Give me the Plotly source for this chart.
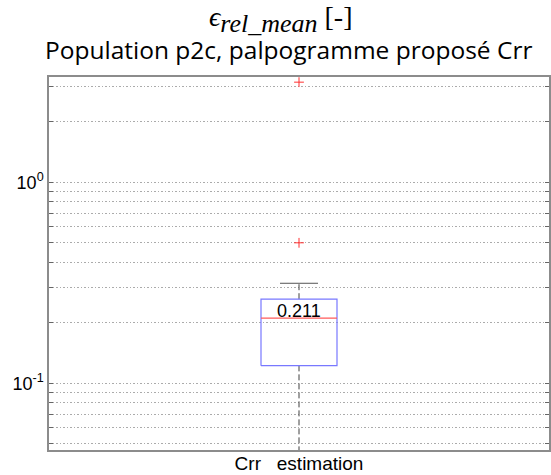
import math
import plotly.graph_objects as go

# Box statistics for the single group
category = ["Crr\u00a0\u00a0\u00a0estimation"]
q1 = [0.1224]
median = [0.211]
q3 = [0.262]
upper_whisker = [0.3145]
lower_whisker = [0.03]
outliers = [0.5, 3.15]

# Log-axis grid values and labels
grid_vals = [0.05, 0.06, 0.07, 0.08, 0.09,
             0.1, 0.2, 0.3, 0.4, 0.5, 0.6, 0.7, 0.8, 0.9,
             1, 2, 3]
grid_text = ["10<sup>-1</sup>" if v == 0.1 else "10<sup>0</sup>" if v == 1 else "" for v in grid_vals]

xc = 1.0
hw = 0.076   # half width of the box
cw = 0.038   # half width of the whisker cap

fig = go.Figure()

# whiskers (dashed)
fig.add_trace(go.Scatter(x=[xc, xc], y=[q3[0], upper_whisker[0]], mode="lines",
                         line=dict(color="#404040", width=1, dash="6px,3px"), hoverinfo="skip"))
fig.add_trace(go.Scatter(x=[xc, xc], y=[lower_whisker[0], q1[0]], mode="lines",
                         line=dict(color="#404040", width=1, dash="6px,3px"), hoverinfo="skip"))
# caps
fig.add_trace(go.Scatter(x=[xc - cw, xc + cw], y=[upper_whisker[0]] * 2, mode="lines",
                         line=dict(color="#555555", width=1), hoverinfo="skip"))
fig.add_trace(go.Scatter(x=[xc - cw, xc + cw], y=[lower_whisker[0]] * 2, mode="lines",
                         line=dict(color="#555555", width=1), hoverinfo="skip"))
# box
fig.add_trace(go.Scatter(x=[xc - hw, xc + hw, xc + hw, xc - hw, xc - hw],
                         y=[q1[0], q1[0], q3[0], q3[0], q1[0]], mode="lines",
                         line=dict(color="#7878ff", width=1.2), hoverinfo="skip"))
# median
fig.add_trace(go.Scatter(x=[xc - hw, xc + hw], y=[median[0]] * 2, mode="lines",
                         line=dict(color="#ff5a5a", width=1.2), hoverinfo="skip"))
# outliers
fig.add_trace(go.Scatter(x=[xc] * len(outliers), y=outliers, mode="markers",
                         marker=dict(symbol="cross-thin", size=7,
                                     line=dict(color="#ff3030", width=1)),
                         hoverinfo="skip"))

# median value label (log axis: annotation y in log10 units)
fig.add_annotation(x=xc, y=math.log10(median[0]), xref="x", yref="y",
                   text=f"{median[0]:.3f}", showarrow=False, yanchor="bottom", yshift=-5,
                   font=dict(family="Liberation Sans, Arial", size=18, color="black"))

# title lines
fig.add_annotation(xref="paper", yref="paper", x=0.464, y=1, yshift=58, yanchor="middle",
                   text="<i>ϵ<sub><span style='font-size:26px'>rel_mean</span></sub></i> [-]",
                   showarrow=False,
                   font=dict(family="Liberation Serif", size=28, color="black"))
fig.add_annotation(xref="paper", yref="paper", x=0.479, y=1, yshift=28, yanchor="middle",
                   text="Population p2c, palpogramme proposé Crr", showarrow=False,
                   font=dict(family="Open Sans", size=24.5, color="black"))

fig.update_layout(
    template="none",
    width=551, height=475,
    margin=dict(l=49, r=2, t=77, b=25),
    paper_bgcolor="white", plot_bgcolor="white",
    showlegend=False,
    xaxis=dict(range=[0.5, 1.5], tickvals=[xc], ticktext=category, automargin=False,
               showgrid=False, zeroline=False, showline=True, mirror=True,
               linecolor="#8c8c8c", linewidth=1.5, ticks="", ticklabelstandoff=-5,
               tickfont=dict(family="Liberation Sans, Arial", size=19, color="black")),
    yaxis=dict(type="log", range=[-1.332, 0.524], tickvals=grid_vals, ticktext=grid_text,
               automargin=False,
               showgrid=True, gridcolor="#ababab", griddash="1.5px,2px", gridwidth=1,
               zeroline=False, showline=True, mirror="ticks",
               linecolor="#8c8c8c", linewidth=1.5, ticks="inside", ticklen=4,
               tickcolor="#666666",
               tickfont=dict(family="Liberation Sans, Arial", size=18, color="black")),
)

fig.write_html("out.html")
